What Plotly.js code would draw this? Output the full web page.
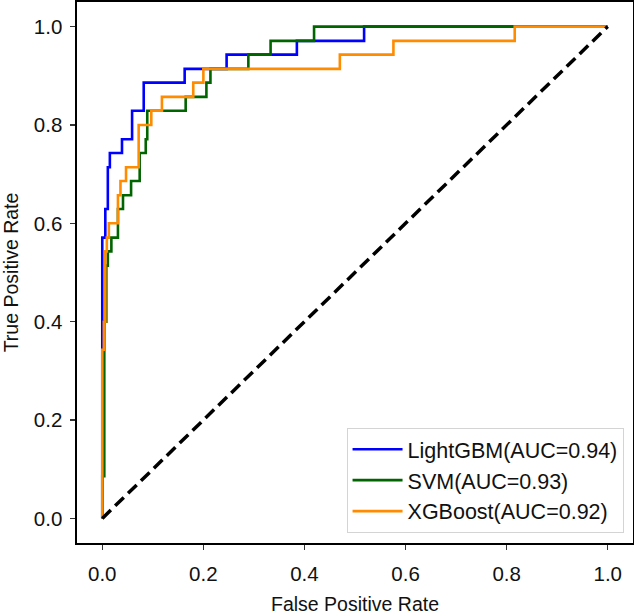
<!DOCTYPE html>
<html>
<head>
<meta charset="utf-8">
<script src="https://cdn.plot.ly/plotly-3.0.1.min.js"></script>
<style>html,body{margin:0;padding:0;background:#fff;}#chart{width:634px;height:615px;}</style>
</head>
<body>
<div id="chart"></div>
<script>
// ROC corner points
const lgbmFpr = [0, 0, 0.006, 0.006, 0.011, 0.011, 0.015, 0.015, 0.039, 0.039, 0.059, 0.059, 0.082, 0.082, 0.163, 0.163, 0.246, 0.246, 0.385, 0.385, 0.518, 0.518, 1.0];
const lgbmTpr = [0, 0.571, 0.571, 0.629, 0.629, 0.714, 0.714, 0.743, 0.743, 0.771, 0.771, 0.829, 0.829, 0.886, 0.886, 0.914, 0.914, 0.943, 0.943, 0.971, 0.971, 1.0, 1.0];

const svmFpr = [0, 0, 0.004, 0.004, 0.008, 0.008, 0.011, 0.011, 0.018, 0.018, 0.031, 0.031, 0.041, 0.041, 0.057, 0.057, 0.074, 0.074, 0.086, 0.086, 0.089, 0.089, 0.165, 0.165, 0.206, 0.206, 0.214, 0.214, 0.289, 0.289, 0.333, 0.333, 0.419, 0.419, 1.0];
const svmTpr = [0, 0.086, 0.086, 0.4, 0.4, 0.514, 0.514, 0.543, 0.543, 0.571, 0.571, 0.629, 0.629, 0.657, 0.657, 0.686, 0.686, 0.743, 0.743, 0.771, 0.771, 0.829, 0.829, 0.857, 0.857, 0.886, 0.886, 0.914, 0.914, 0.943, 0.943, 0.971, 0.971, 1.0, 1.0];

const xgbFpr = [0, 0, 0.003, 0.003, 0.006, 0.006, 0.009, 0.009, 0.013, 0.013, 0.031, 0.031, 0.036, 0.036, 0.047, 0.047, 0.072, 0.072, 0.097, 0.097, 0.118, 0.118, 0.18, 0.18, 0.2, 0.2, 0.47, 0.47, 0.576, 0.576, 0.816, 0.816, 1.0];
const xgbTpr = [0, 0.343, 0.343, 0.4, 0.4, 0.543, 0.543, 0.571, 0.571, 0.6, 0.6, 0.657, 0.657, 0.686, 0.686, 0.714, 0.714, 0.8, 0.8, 0.829, 0.829, 0.857, 0.857, 0.886, 0.886, 0.914, 0.914, 0.943, 0.943, 0.971, 0.971, 1.0, 1.0];

const modelNames = ['LightGBM(AUC=0.94)', 'SVM(AUC=0.93)', 'XGBoost(AUC=0.92)'];
const chanceX = [0, 1];
const chanceY = [0, 1];
const tickVals = [0, 0.2, 0.4, 0.6, 0.8, 1.0];
const tickText = ['0.0', '0.2', '0.4', '0.6', '0.8', '1.0'];

const FONT = 'Liberation Sans, Arial, Helvetica, sans-serif';

const traces = [
  {x: lgbmFpr, y: lgbmTpr, name: modelNames[0], mode: 'lines', line: {color: '#0000ff', width: 2.6}},
  {x: svmFpr, y: svmTpr, name: modelNames[1], mode: 'lines', line: {color: '#006400', width: 2.6}},
  {x: xgbFpr, y: xgbTpr, name: modelNames[2], mode: 'lines', line: {color: '#ff8c00', width: 2.6}},
  {x: chanceX, y: chanceY, mode: 'lines', showlegend: false, hoverinfo: 'skip', line: {color: '#000000', width: 3.5, dash: '12px,6px'}}
];

const axisCommon = {
  range: [-0.05, 1.05],
  tickvals: tickVals,
  ticktext: tickText,
  ticks: 'outside',
  ticklen: 5,
  tickwidth: 1.2,
  tickcolor: '#333',
  showline: true,
  mirror: true,
  linecolor: '#000',
  linewidth: 1.6,
  showgrid: false,
  zeroline: false,
  tickfont: {family: FONT, size: 20.5, color: '#111'}
};

const layout = {
  width: 634,
  height: 615,
  margin: {l: 77, r: 1, t: 2, b: 72},
  paper_bgcolor: '#fff',
  plot_bgcolor: '#fff',
  font: {family: FONT, color: '#111'},
  xaxis: Object.assign({}, axisCommon, {
    ticklabelstandoff: 7,
    title: {text: 'False Positive Rate', font: {family: FONT, size: 19.5, color: '#111'}, standoff: 16}
  }),
  yaxis: Object.assign({}, axisCommon, {
    ticklabelstandoff: 4,
    title: {text: 'True Positive Rate', font: {family: FONT, size: 19.5, color: '#111'}, standoff: 12}
  }),
  legend: {
    x: 0.983, xanchor: 'right',
    y: 0.019, yanchor: 'bottom',
    bgcolor: '#fff',
    bordercolor: '#d4d4d4',
    borderwidth: 1,
    itemwidth: 50,
    font: {family: FONT, size: 21.5, color: '#111'}
  },
  showlegend: true
};

Plotly.newPlot('chart', traces, layout, {displayModeBar: false, staticPlot: true});
</script>
</body>
</html>
